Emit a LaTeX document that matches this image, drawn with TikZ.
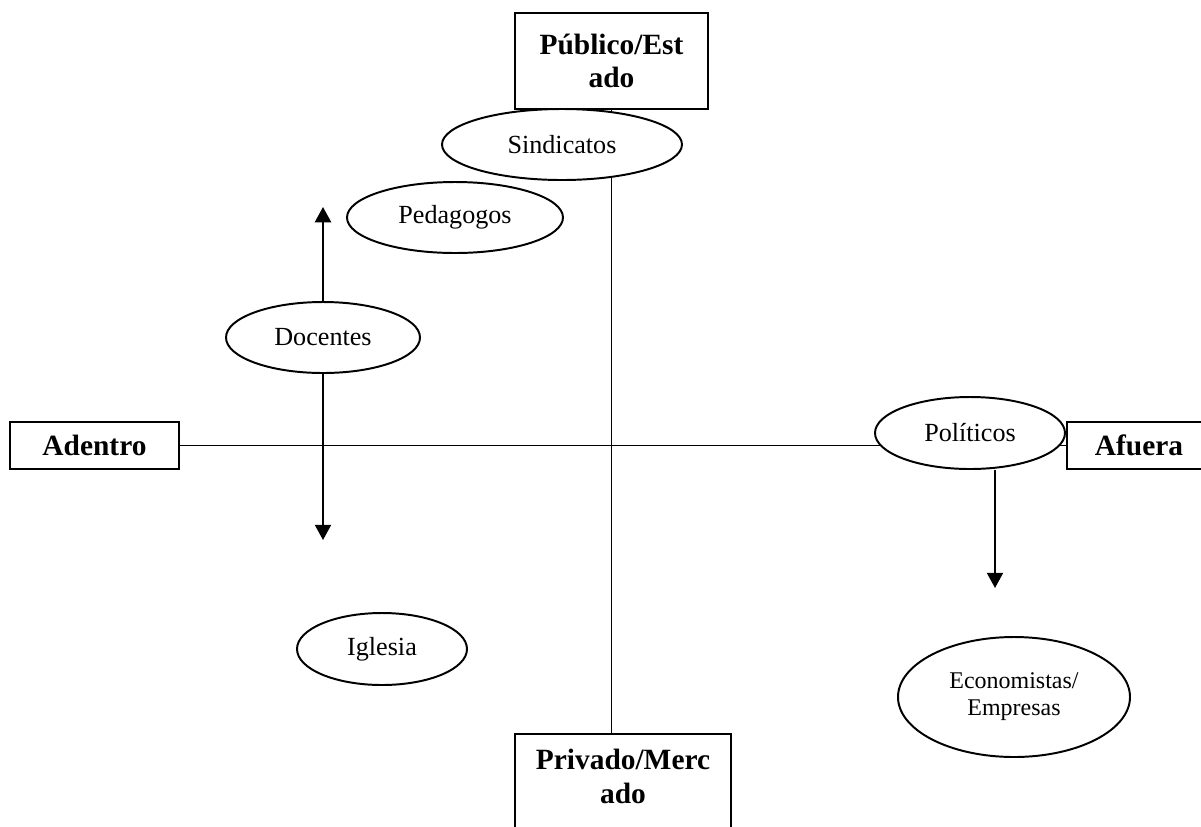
\documentclass[tikz,border=0pt]{standalone}
\usepackage{fontspec}
\setmainfont{Liberation Serif}
\usepackage{tikz}
\usetikzlibrary{arrows.meta,shapes.geometric}
\newdimen\pxu
\pxu=0.459pt

\begin{document}
\begin{tikzpicture}[x=0.459pt,y=-0.459pt,>={Triangle[width=7.4pt,length=7pt]},line width=0.9pt,
  polo/.style={rectangle,draw,fill=white,align=center,inner sep=0pt,font=\fontsize{13.5}{15.5}\selectfont\bfseries},
  actor/.style={ellipse,draw,fill=white,inner sep=0pt,font=\fontsize{12}{14}\selectfont}]
  \useasboundingbox (0,0) rectangle (1201,826);
  % los cuatro polos
  \node[polo,minimum width=193\pxu,minimum height=96\pxu] (pub) at (611.5,61) {Público/Est\\ado};
  \node[polo,minimum width=216\pxu,anchor=north,inner ysep=7pt,text depth=40pt] (priv) at (623,733) {Privado/Merc\\ado};
  \node[polo,minimum width=169\pxu,minimum height=47\pxu] (adentro) at (94.5,445.5) {Adentro};
  \node[polo,minimum width=144\pxu,minimum height=47\pxu] (afuera) at (1139,445.5) {Afuera};
  \draw (pub) -- (pub |- priv.north);
  \draw (adentro) -- (afuera);
  % actores
  \node[actor,minimum width=240\pxu,minimum height=71\pxu] (sind) at (562,144.5) {Sindicatos};
  \node[actor,minimum width=216\pxu,minimum height=71\pxu] (ped) at (455,217.5) {Pedagogos};
  \node[actor,minimum width=194\pxu,minimum height=71\pxu] (doc) at (323,337.5) {Docentes};
  \node[actor,minimum width=190\pxu,minimum height=72\pxu] (pol) at (970,433) {Políticos};
  \node[actor,minimum width=170\pxu,minimum height=72\pxu] (igl) at (382,649) {Iglesia};
  \node[actor,minimum width=232\pxu,minimum height=120\pxu,align=center,font=\fontsize{11}{12.4}\selectfont] (eco) at (1014,697) {Economistas/\\Empresas};
  \coordinate (docup) at (323,207);
  \coordinate (docdn) at (323,540);
  \coordinate (polend) at (995,588);
  \draw[->] (doc) -- (docup);
  \draw[->] (doc) -- (docdn);
  \draw[->] (polend |- pol.south) -- (polend);
\end{tikzpicture}
\end{document}
